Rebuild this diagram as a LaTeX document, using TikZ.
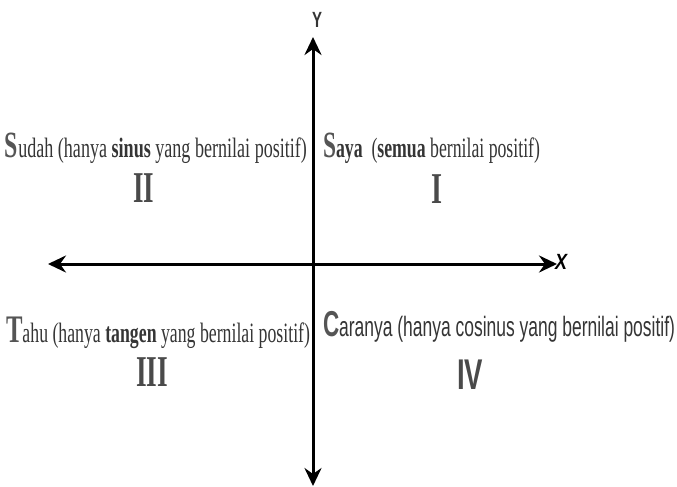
\documentclass[tikz,border=0pt]{standalone}
\usepackage{fontspec}
\usepackage{graphicx}
\setmainfont{Liberation Serif}
\newfontfamily\sansf{Liberation Sans}
\usetikzlibrary{arrows.meta}
\definecolor{txt}{HTML}{353535}
\definecolor{big}{HTML}{555555}
\definecolor{num}{HTML}{4A4A4A}
\tikzset{
  tip/.tip={Stealth[length=18pt,width=17pt,inset=6pt]},
  axis/.style={line width=3pt, black, tip-tip},
  lbl/.style={inner sep=0pt, outer sep=0pt, anchor=base west, text=txt},
  numlbl/.style={inner sep=0pt, outer sep=0pt, anchor=base, text=num},
}
\begin{document}
\begin{tikzpicture}[x=1pt,y=-1pt]
\useasboundingbox (0,0) rectangle (677,487);
% axes
\coordinate (xl) at (48,264);
\coordinate (xr) at (557,264);
\coordinate (yt) at (313,37);
\coordinate (yb) at (313,486);
\draw[axis] (xl) -- (xr);
\draw[axis] (yb) -- (yt);
\node[inner sep=0pt, text=txt, font=\sansf\bfseries\fontsize{22}{22}\selectfont] (ylab) at (317,20) {\resizebox{10pt}{\height}{Y}};
\node[inner sep=0pt, anchor=west, text=black, font=\sansf\bfseries\itshape\fontsize{22}{22}\selectfont] (xlab) at (555,262) {\resizebox{12pt}{\height}{X}};
% quadrant II
\node[lbl] (q2) at (5,157) {\resizebox{302pt}{\height}{{\color{big}\bfseries\fontsize{37}{37}\selectfont S}{\fontsize{28}{28}\selectfont udah (hanya \textbf{sinus} yang bernilai positif)}}};
\node[numlbl] (n2) at (144,202) {\resizebox{21pt}{\height}{\bfseries\fontsize{44}{44}\selectfont II}};
% quadrant I
\node[lbl] (q1) at (323,157) {\resizebox{217pt}{\height}{{\color{big}\bfseries\fontsize{37}{37}\selectfont S}{\fontsize{28}{28}\selectfont\textbf{aya}\ \ (\textbf{semua} bernilai positif)}}};
\node[numlbl] (n1) at (437,203) {\resizebox{11pt}{\height}{\bfseries\fontsize{44}{44}\selectfont I}};
% quadrant III
\node[lbl] (q3) at (6,342) {\resizebox{304pt}{\height}{{\color{big}\bfseries\fontsize{39}{39}\selectfont T}{\fontsize{28}{28}\selectfont ahu (hanya \textbf{tangen} yang bernilai positif)}}};
\node[numlbl] (n3) at (152,386) {\resizebox{32pt}{\height}{\bfseries\fontsize{44}{44}\selectfont III}};
% quadrant IV
\node[lbl] (q4) at (323,336) {\resizebox{352pt}{\height}{\sansf{\color{big}\bfseries\fontsize{36}{36}\selectfont C}{\fontsize{28}{28}\selectfont aranya (hanya cosinus yang bernilai positif)}}};
\node[numlbl] (n4) at (470,389) {\resizebox{26pt}{\height}{\sansf\bfseries\fontsize{43}{43}\selectfont IV}};
\end{tikzpicture}
\end{document}
